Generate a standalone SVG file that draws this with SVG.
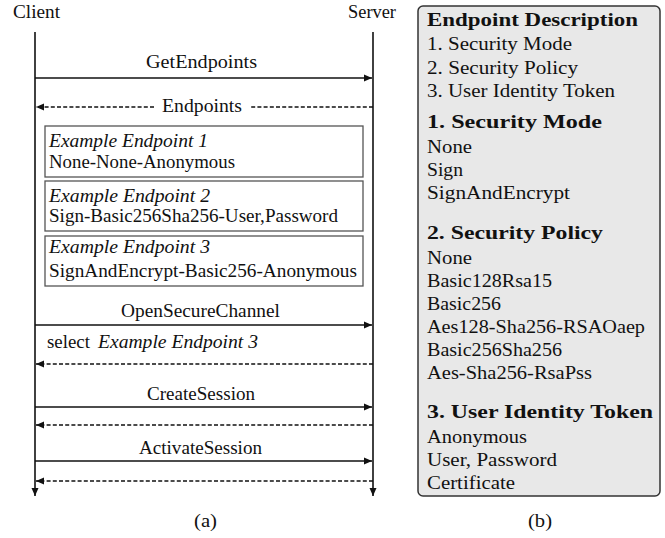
<svg xmlns="http://www.w3.org/2000/svg" width="665" height="538" viewBox="0 0 665 538">
<defs>
<marker id="ah" markerUnits="userSpaceOnUse" markerWidth="10" markerHeight="8" refX="8" refY="4" orient="auto">
<path d="M0,0.5 L8,4 L0,7.5 z" fill="#111"/>
</marker>
</defs>
<rect width="665" height="538" fill="#fff"/>

<g style="font-family:'Liberation Serif';font-size:18px" fill="#111">
<g id="client">
<text x="13" y="18" textLength="47" lengthAdjust="spacingAndGlyphs">Client</text>
</g>
<g id="server">
<text x="348" y="18" textLength="48" lengthAdjust="spacingAndGlyphs">Server</text>
</g>
</g>

<g id="connectors" stroke="#111" stroke-width="1.5" fill="none">
<line stroke-width="1.6" x1="35" y1="32" x2="35" y2="496" marker-end="url(#ah)"/>
<line stroke-width="1.6" x1="373" y1="32" x2="373" y2="496" marker-end="url(#ah)"/>
<line x1="35" y1="78" x2="372" y2="78" marker-end="url(#ah)"/>
<line x1="35" y1="325" x2="372" y2="325" marker-end="url(#ah)"/>
<line x1="35" y1="407" x2="372" y2="407" marker-end="url(#ah)"/>
<line x1="35" y1="461" x2="372" y2="461" marker-end="url(#ah)"/>
<g stroke-dasharray="4 2.2">
<line x1="373" y1="107" x2="250" y2="107"/>
<line x1="154" y1="107" x2="36" y2="107" marker-end="url(#ah)"/>
<line x1="373" y1="364" x2="36" y2="364" marker-end="url(#ah)"/>
<line x1="373" y1="425" x2="36" y2="425" marker-end="url(#ah)"/>
<line x1="373" y1="481" x2="36" y2="481" marker-end="url(#ah)"/>
</g>
</g>

<g id="labels" style="font-family:'Liberation Serif';font-size:18px" fill="#111">
<text x="146" y="68" textLength="111" lengthAdjust="spacingAndGlyphs">GetEndpoints</text>
<text x="162" y="112" textLength="80" lengthAdjust="spacingAndGlyphs">Endpoints</text>
<text x="121" y="317" textLength="159" lengthAdjust="spacingAndGlyphs">OpenSecureChannel</text>
<text x="47" y="348" textLength="43" lengthAdjust="spacingAndGlyphs">select</text>
<text style="font-style:italic" x="98" y="348" textLength="160" lengthAdjust="spacingAndGlyphs">Example Endpoint 3</text>
<text x="147" y="400" textLength="108" lengthAdjust="spacingAndGlyphs">CreateSession</text>
<text x="139" y="454" textLength="123" lengthAdjust="spacingAndGlyphs">ActivateSession</text>
<text x="194" y="527" textLength="23" lengthAdjust="spacingAndGlyphs">(a)</text>
</g>

<g style="font-family:'Liberation Serif';font-size:18px" fill="#111">
<g id="endpoint1">
<rect fill="#fff" stroke="#555" stroke-width="1.3" x="45" y="126" width="318" height="51"/>
<text style="font-style:italic" x="49" y="147" textLength="159" lengthAdjust="spacingAndGlyphs">Example Endpoint 1</text>
<text x="49" y="168" textLength="186" lengthAdjust="spacingAndGlyphs">None-None-Anonymous</text>
</g>
<g id="endpoint2">
<rect fill="#fff" stroke="#555" stroke-width="1.3" x="45" y="181" width="318" height="50"/>
<text style="font-style:italic" x="49" y="202" textLength="161" lengthAdjust="spacingAndGlyphs">Example Endpoint 2</text>
<text x="49" y="222" textLength="289" lengthAdjust="spacingAndGlyphs">Sign-Basic256Sha256-User,Password</text>
</g>
<g id="endpoint3">
<rect fill="#fff" stroke="#555" stroke-width="1.3" x="45" y="236" width="318" height="50"/>
<text style="font-style:italic" x="49" y="253" textLength="161" lengthAdjust="spacingAndGlyphs">Example Endpoint 3</text>
<text x="49" y="277" textLength="308" lengthAdjust="spacingAndGlyphs">SignAndEncrypt-Basic256-Anonymous</text>
</g>

<g id="description">
<rect fill="#e8e8e8" stroke="#333" stroke-width="1.5" x="418" y="6" width="242" height="490" rx="5" ry="5"/>
<text style="font-weight:bold" x="427" y="26" textLength="211" lengthAdjust="spacingAndGlyphs">Endpoint Description</text>
<text x="427" y="50" textLength="145" lengthAdjust="spacingAndGlyphs">1. Security Mode</text>
<text x="427" y="74" textLength="151" lengthAdjust="spacingAndGlyphs">2. Security Policy</text>
<text x="427" y="97" textLength="188" lengthAdjust="spacingAndGlyphs">3. User Identity Token</text>
<text style="font-weight:bold" x="427" y="128" textLength="175" lengthAdjust="spacingAndGlyphs">1. Security Mode</text>
<text x="427" y="153" textLength="45" lengthAdjust="spacingAndGlyphs">None</text>
<text x="427" y="176" textLength="36" lengthAdjust="spacingAndGlyphs">Sign</text>
<text x="427" y="199" textLength="143" lengthAdjust="spacingAndGlyphs">SignAndEncrypt</text>
<text style="font-weight:bold" x="427" y="239" textLength="176" lengthAdjust="spacingAndGlyphs">2. Security Policy</text>
<text x="427" y="264" textLength="45" lengthAdjust="spacingAndGlyphs">None</text>
<text x="427" y="287" textLength="125" lengthAdjust="spacingAndGlyphs">Basic128Rsa15</text>
<text x="427" y="310" textLength="74" lengthAdjust="spacingAndGlyphs">Basic256</text>
<text x="427" y="333" textLength="218" lengthAdjust="spacingAndGlyphs">Aes128-Sha256-RSAOaep</text>
<text x="427" y="356" textLength="135" lengthAdjust="spacingAndGlyphs">Basic256Sha256</text>
<text x="427" y="379" textLength="165" lengthAdjust="spacingAndGlyphs">Aes-Sha256-RsaPss</text>
<text style="font-weight:bold" x="427" y="418" textLength="226" lengthAdjust="spacingAndGlyphs">3. User Identity Token</text>
<text x="427" y="443" textLength="100" lengthAdjust="spacingAndGlyphs">Anonymous</text>
<text x="427" y="466" textLength="130" lengthAdjust="spacingAndGlyphs">User, Password</text>
<text x="427" y="489" textLength="88" lengthAdjust="spacingAndGlyphs">Certificate</text>
</g>
<g id="caption-b">
<text x="528" y="527" textLength="24" lengthAdjust="spacingAndGlyphs">(b)</text>
</g>
</g>
</svg>
